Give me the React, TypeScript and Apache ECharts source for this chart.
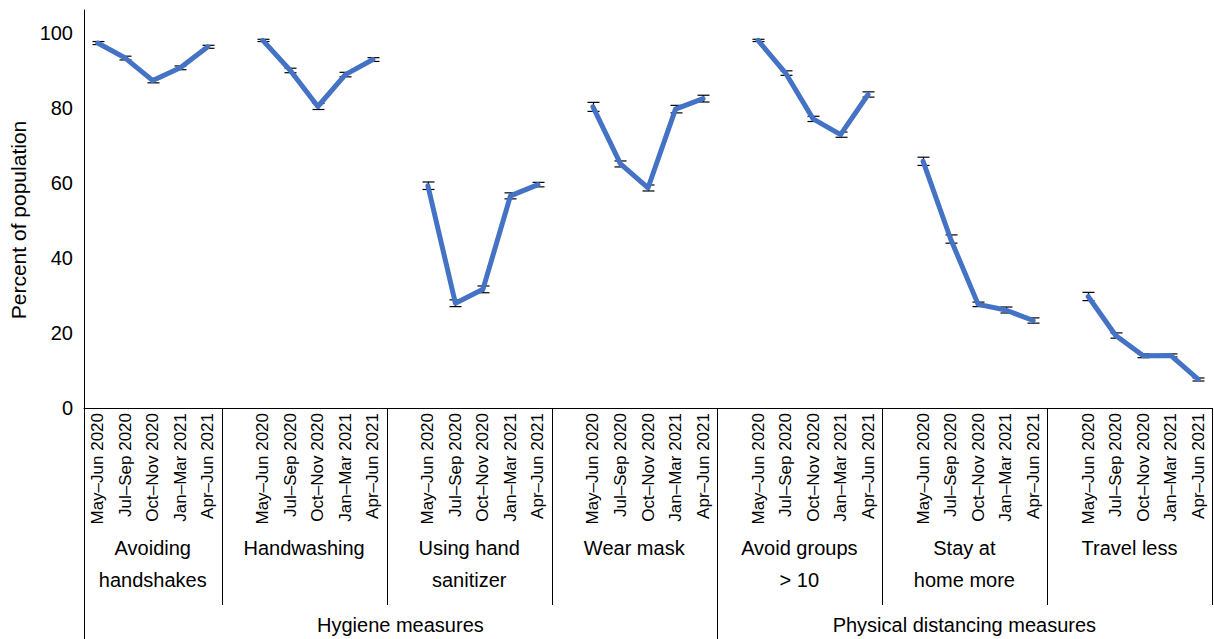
import React, { useRef, useEffect } from "react";
import * as echarts from "echarts";

// survey periods (repeated under every behaviour)
const periods = ["May–Jun 2020", "Jul–Sep 2020", "Oct–Nov 2020", "Jan–Mar 2021", "Apr–Jun 2021"];

// behaviours, in plotting order
const behaviours = [
	"Avoiding\nhandshakes",
	"Handwashing",
	"Using hand\nsanitizer",
	"Wear mask",
	"Avoid groups\n> 10",
	"Stay at\nhome more",
	"Travel less",
];

// top-level sections and how many behaviours each covers
const sectionNames = ["Hygiene measures", "Physical distancing measures"];
const sectionSizes = [4, 3];

// percent of population, one array per behaviour
const handshakes = [97.2, 93.2, 87.2, 90.6, 96.2];
const handwashing = [97.9, 89.9, 80.3, 88.8, 92.8];
const sanitizer = [59.2, 27.9, 31.6, 56.5, 59.5];
const mask = [80.2, 65.0, 58.6, 79.6, 82.4];
const avoidGroups = [97.9, 89.2, 77.0, 72.8, 83.5];
const stayHome = [65.7, 45.0, 27.6, 26.1, 23.3];
const travelLess = [29.7, 19.3, 13.9, 14.0, 7.6];

// half-width of the error bars (percentage points)
const handshakesErr = [0.4, 0.5, 0.6, 0.5, 0.4];
const handwashingErr = [0.3, 0.6, 0.8, 0.6, 0.5];
const sanitizerErr = [1.0, 0.9, 0.9, 0.8, 0.6];
const maskErr = [1.2, 0.8, 0.8, 1.0, 0.9];
const avoidGroupsErr = [0.3, 0.6, 0.7, 0.7, 0.7];
const stayHomeErr = [1.1, 1.1, 0.6, 0.8, 0.7];
const travelLessErr = [1.1, 0.7, 0.5, 0.4, 0.4];

const yTicks = [0, 20, 40, 60, 80, 100];

const FONT = "'Liberation Sans', Arial, Helvetica, sans-serif";
const BLUE = "#4472C4";

const App: React.FC = () => {
	const chartRef = useRef<HTMLDivElement | null>(null);

	useEffect(() => {
		if (!chartRef.current) return;
		const chart = echarts.init(chartRef.current, undefined, { renderer: "svg" });

		const allValues = [handshakes, handwashing, sanitizer, mask, avoidGroups, stayHome, travelLess];
		const allErrors = [handshakesErr, handwashingErr, sanitizerErr, maskErr, avoidGroupsErr, stayHomeErr, travelLessErr];

		// one empty slot in front of every group except the first
		const categories: string[] = [];
		const lineData: (number | null)[] = [];
		const errData: number[][] = [];
		const groupLast: number[] = [];
		allValues.forEach((vals, g) => {
			if (g > 0) {
				categories.push("");
				lineData.push(null);
			}
			vals.forEach((v, i) => {
				errData.push([categories.length, v - allErrors[g][i], v + allErrors[g][i]]);
				categories.push(periods[i]);
				lineData.push(v);
			});
			groupLast.push(categories.length - 1);
		});

		const options: any = {
			animation: false,
			grid: { left: 84, right: 2, top: 10, bottom: 231, containLabel: false, outerBoundsMode: "none" },
			xAxis: {
				type: "category",
				data: categories,
				boundaryGap: true,
				axisLine: { lineStyle: { color: "#000", width: 1 } },
				axisTick: { show: false },
				axisLabel: {
					interval: 0,
					rotate: 90,
					margin: 5,
					color: "#000",
					fontSize: 17,
					fontFamily: FONT,
				},
			},
			yAxis: {
				type: "value",
				min: 0,
				max: 106,
				interval: 20,
				name: "Percent of population",
				nameLocation: "middle",
				nameGap: 54,
				nameTextStyle: { color: "#000", fontSize: 21, fontFamily: FONT, padding: [0, 22, 0, 0] },
				axisLine: { show: true, lineStyle: { color: "#000", width: 1 } },
				axisTick: { show: false },
				splitLine: { show: false },
				axisLabel: {
					color: "#000",
					fontSize: 20,
					fontFamily: FONT,
					margin: 11,
					formatter: (v: number) => (yTicks.includes(v) ? String(v) : ""),
				},
			},
			series: [
				{
					type: "custom",
					z: 1,
					data: errData,
					renderItem: (params: any, api: any) => {
						const lo = api.coord([api.value(0), api.value(1)]);
						const hi = api.coord([api.value(0), api.value(2)]);
						const x = Math.round(lo[0]) + 0.5;
						const cap = 6;
						const st = { stroke: "#000", lineWidth: 1.2 };
						return {
							type: "group",
							children: [
								{ type: "line", shape: { x1: x, y1: lo[1], x2: x, y2: hi[1] }, style: st },
								{ type: "line", shape: { x1: x - cap, y1: lo[1], x2: x + cap, y2: lo[1] }, style: st },
								{ type: "line", shape: { x1: x - cap, y1: hi[1], x2: x + cap, y2: hi[1] }, style: st },
							],
						};
					},
				},
				{
					type: "line",
					z: 2,
					data: lineData,
					connectNulls: false,
					showSymbol: false,
					symbol: "none",
					lineStyle: { color: BLUE, width: 5, cap: "round", join: "round" },
				},
			],
		};

		chart.setOption(options);

		// group separators and group / section labels under the axis
		const px = (i: number) => chart.convertToPixel({ xAxisIndex: 0 }, i) as number;
		const axisY = chart.convertToPixel({ yAxisIndex: 0 }, 0) as number;
		const band = px(1) - px(0);
		const leftEdge = px(0) - band / 2;
		const rightEdges = groupLast.map((i) => px(i) + band / 2);
		const leftEdges = [leftEdge, ...rightEdges.slice(0, -1)];

		const graphic: any[] = [];
		const vline = (x: number, y2: number) =>
			graphic.push({
				type: "line",
				silent: true,
				shape: { x1: Math.round(x) + 0.5, y1: axisY, x2: Math.round(x) + 0.5, y2 },
				style: { stroke: "#000", lineWidth: 1 },
			});

		// section boundaries reach the bottom of the page
		const sectionBreaks: number[] = [];
		let acc = 0;
		sectionSizes.forEach((n) => {
			sectionBreaks.push(acc);
			acc += n;
		});

		vline(leftEdge, 639);
		rightEdges.forEach((x, g) => {
			const isSectionBreak = sectionBreaks.includes(g + 1);
			vline(x, isSectionBreak ? 639 : axisY + 197);
		});

		behaviours.forEach((name, g) => {
			graphic.push({
				type: "text",
				silent: true,
				x: (leftEdges[g] + rightEdges[g]) / 2,
				y: axisY + 124,
				style: {
					text: name,
					align: "center",
					verticalAlign: "top",
					fontSize: 20,
					lineHeight: 32,
					fontFamily: FONT,
					fill: "#000",
				},
			});
		});

		sectionNames.forEach((name, s) => {
			const first = sectionBreaks[s];
			const last = first + sectionSizes[s] - 1;
			graphic.push({
				type: "text",
				silent: true,
				x: (leftEdges[first] + rightEdges[last]) / 2,
				y: axisY + 217,
				style: {
					text: name,
					align: "center",
					verticalAlign: "middle",
					fontSize: 20,
					fontFamily: FONT,
					fill: "#000",
				},
			});
		});

		chart.setOption({ graphic });

		return () => {
			chart.dispose();
		};
	}, []);

	return (
		<div
			ref={chartRef}
			style={{ position: "absolute", left: 0, top: 0, width: "1214px", height: "639px", background: "#fff" }}
		/>
	);
};

export default App;
